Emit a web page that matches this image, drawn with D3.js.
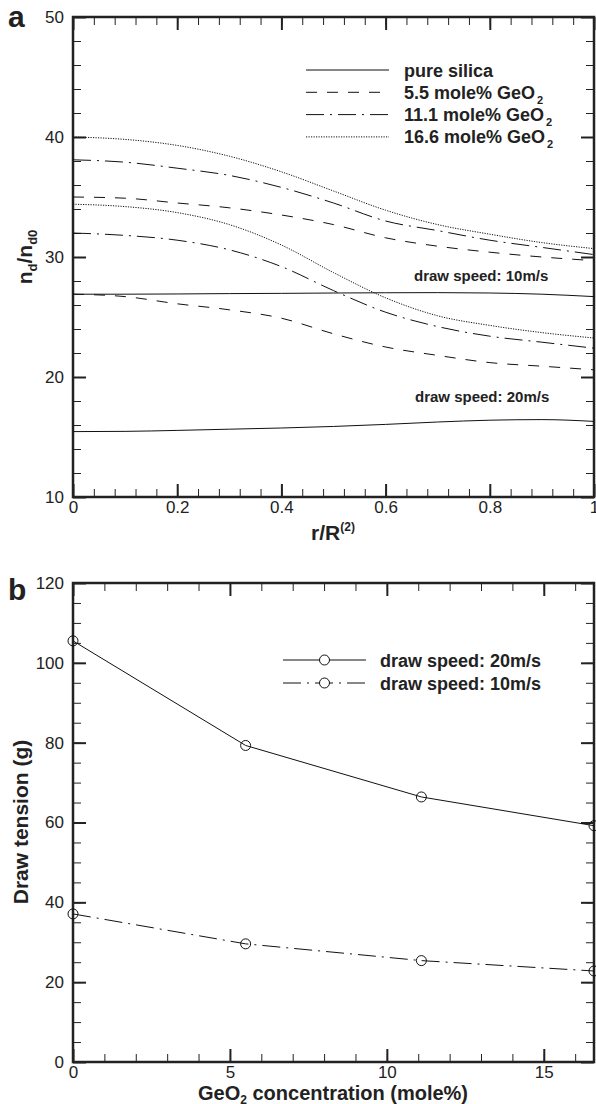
<!DOCTYPE html>
<html>
<head>
<meta charset="utf-8">
<script src="https://cdnjs.cloudflare.com/ajax/libs/d3/7.8.5/d3.min.js"></script>
<style>
  body { margin: 0; background: #fff; }
  svg { display: block; font-family: "Liberation Sans", Arial, sans-serif; }
  .tick text { font-size: 17px; fill: #222; font-family: "Liberation Sans", Arial, sans-serif; }
  .bold { font-weight: bold; fill: #222; }
</style>
</head>
<body>
<script>
// ---- panel a data: n_d/n_d0 against r/R(2) ----
var rA = [0, 0.1, 0.2, 0.3, 0.4, 0.5, 0.6, 0.7, 0.8, 0.9, 1.0];
var silica10 = [26.9, 26.9, 26.92, 26.95, 26.97, 27.0, 27.02, 27.03, 27.0, 26.9, 26.7];
var silica20 = [15.45, 15.47, 15.55, 15.65, 15.75, 15.88, 16.05, 16.25, 16.4, 16.45, 16.3];
var ge55Up = [35.0, 34.9, 34.5, 34.1, 33.5, 32.7, 31.6, 30.9, 30.4, 30.0, 29.7];
var ge55Lo = [26.9, 26.7, 26.1, 25.6, 24.9, 23.6, 22.5, 21.8, 21.2, 20.9, 20.6];
var ge111Up = [38.1, 37.9, 37.4, 36.8, 35.8, 34.5, 33.0, 32.2, 31.4, 30.8, 30.2];
var ge111Lo = [32.0, 31.8, 31.4, 30.6, 29.2, 27.2, 25.4, 24.2, 23.4, 22.9, 22.4];
var ge166Up = [40.0, 39.8, 39.3, 38.4, 37.1, 35.5, 33.9, 32.7, 31.9, 31.2, 30.7];
var ge166Lo = [34.4, 34.2, 33.7, 32.7, 31.0, 28.7, 26.6, 25.1, 24.3, 23.7, 23.25];
var legendA = ["pure silica", "5.5 mole% GeO", "11.1 mole% GeO", "16.6 mole% GeO"];
var xTicksA = [0, 0.2, 0.4, 0.6, 0.8, 1];
var yTicksA = [10, 20, 30, 40, 50];

// ---- panel b data: draw tension against GeO2 concentration ----
var geConc = [0, 5.5, 11.1, 16.6];
var tension20 = [105.5, 79.3, 66.4, 59.2];
var tension10 = [37.1, 29.6, 25.4, 22.8];
var legendB = ["draw speed: 20m/s", "draw speed: 10m/s"];
var xTicksB = [0, 5, 10, 15];
var yTicksB = [0, 20, 40, 60, 80, 100, 120];

var DASH = "11,10", DASHDOT = "18,6,2,6", DOT = "1.2,1.3";

var svg = d3.select("body").append("svg").attr("width", 596).attr("height", 1104);

var xA = d3.scaleLinear().domain([0, 1]).range([73, 594]);
var yA = d3.scaleLinear().domain([10, 50]).range([497, 17]);
var xB = d3.scaleLinear().domain([0, 16.6]).range([73, 594]);
var yB = d3.scaleLinear().domain([0, 120]).range([1062, 583]);

var fmt = d3.format("~g");

function frame(x, y, xMaj, xMin, yMaj, yMin) {
  var g = svg.append("g");
  var x0 = x.range()[0], x1 = x.range()[1], y0 = y.range()[0], y1 = y.range()[1];
  function put(axis, tx, ty, big) {
    var a = g.append("g").attr("transform", "translate(" + tx + "," + ty + ")").call(axis);
    a.select(".domain").remove();
    a.selectAll(".tick line").attr("stroke", "#222").attr("stroke-width", big ? 2 : 1);
    return a;
  }
  // labelled major ticks
  put(d3.axisBottom(x).tickValues(xMaj).tickSize(-13).tickPadding(4).tickFormat(fmt), 0, y0, true);
  put(d3.axisLeft(y).tickValues(yMaj).tickSize(-13).tickPadding(9).tickFormat(fmt), x0, 0, true);
  put(d3.axisTop(x).tickValues(xMaj).tickSize(-13).tickFormat(""), 0, y1, true);
  put(d3.axisRight(y).tickValues(yMaj).tickSize(-13).tickFormat(""), x1, 0, true);
  // minor ticks
  put(d3.axisBottom(x).tickValues(xMin).tickSize(-8).tickFormat(""), 0, y0, false);
  put(d3.axisTop(x).tickValues(xMin).tickSize(-8).tickFormat(""), 0, y1, false);
  put(d3.axisLeft(y).tickValues(yMin).tickSize(-8).tickFormat(""), x0, 0, false);
  put(d3.axisRight(y).tickValues(yMin).tickSize(-8).tickFormat(""), x1, 0, false);
  g.append("rect").attr("x", x0).attr("y", y1).attr("width", x1 - x0).attr("height", y0 - y1)
    .attr("fill", "none").attr("stroke", "#222").attr("stroke-width", 2.5);
  return g;
}

function minors(lo, hi, step) {
  return d3.range(0, Math.round((hi - lo) / step) + 1).map(function (i) { return +(lo + i * step).toFixed(4); });
}

// ================= panel a =================
frame(xA, yA, xTicksA, minors(0, 1, 0.04), yTicksA, minors(10, 50, 2));

var lineA = d3.line().curve(d3.curveMonotoneX)
  .x(function (d, i) { return xA(rA[i]); })
  .y(function (d) { return yA(d); });

var curvesA = [
  [silica10, null], [silica20, null],
  [ge55Up, DASH], [ge55Lo, DASH],
  [ge111Up, DASHDOT], [ge111Lo, DASHDOT],
  [ge166Up, DOT], [ge166Lo, DOT]
];
svg.append("g").selectAll("path").data(curvesA).join("path")
  .attr("d", function (d) { return lineA(d[0]); })
  .attr("fill", "none").attr("stroke", "#111").attr("stroke-width", 1)
  .attr("stroke-dasharray", function (d) { return d[1]; });

var stylesA = [null, DASH, DASHDOT, DOT];
var legA = svg.append("g");
legendA.forEach(function (t, i) {
  var yy = 70 + i * 22.3;
  legA.append("line").attr("x1", 306).attr("x2", 389).attr("y1", yy).attr("y2", yy)
    .attr("stroke", "#111").attr("stroke-width", 1).attr("stroke-dasharray", stylesA[i]);
  var tx = legA.append("text").attr("class", "bold").attr("x", 404).attr("y", yy + 6.5)
    .style("font-size", "18px").text(t);
  if (i > 0) tx.append("tspan").attr("dx", 2).attr("dy", 5).style("font-size", "11px").text("2");
});

svg.append("text").attr("class", "bold").attr("x", 414).attr("y", 281).style("font-size", "15px").text("draw speed: 10m/s");
svg.append("text").attr("class", "bold").attr("x", 415).attr("y", 402).style("font-size", "15px").text("draw speed: 20m/s");

svg.append("text").attr("class", "bold").attr("x", 8).attr("y", 27).style("font-size", "30px").text("a");

var xlabA = svg.append("text").attr("class", "bold").attr("x", 333).attr("y", 540)
  .attr("text-anchor", "middle").style("font-size", "21px").text("r/R");
xlabA.append("tspan").attr("dy", -9).style("font-size", "12px").text("(2)");

var ylabA = svg.append("text").attr("class", "bold")
  .attr("transform", "translate(32,257) rotate(-90)").attr("text-anchor", "middle").style("font-size", "21px");
ylabA.append("tspan").text("n");
ylabA.append("tspan").attr("dy", 5).style("font-size", "13px").text("d");
ylabA.append("tspan").attr("dy", -5).text("/n");
ylabA.append("tspan").attr("dy", 5).style("font-size", "13px").text("d0");

// ================= panel b =================
frame(xB, yB, xTicksB, minors(0, 16, 1), yTicksB, minors(0, 120, 5));

var lineB = d3.line()
  .x(function (d, i) { return xB(geConc[i]); })
  .y(function (d) { return yB(d); });

var seriesB = [[tension20, null], [tension10, DASHDOT]];
var gB = svg.append("g");
seriesB.forEach(function (s) {
  gB.append("path").attr("d", lineB(s[0])).attr("fill", "none")
    .attr("stroke", "#111").attr("stroke-width", 1).attr("stroke-dasharray", s[1]);
  gB.selectAll(null).data(s[0]).join("circle")
    .attr("cx", function (d, i) { return xB(geConc[i]); })
    .attr("cy", function (d) { return yB(d); })
    .attr("r", 5).attr("fill", "none").attr("stroke", "#111").attr("stroke-width", 1);
});

var stylesB = [null, DASHDOT];
legendB.forEach(function (t, i) {
  var yy = 660 + i * 23;
  gB.append("line").attr("x1", 283).attr("x2", 366).attr("y1", yy).attr("y2", yy)
    .attr("stroke", "#111").attr("stroke-width", 1).attr("stroke-dasharray", stylesB[i]);
  gB.append("circle").attr("cx", 324.5).attr("cy", yy).attr("r", 5)
    .attr("fill", "#fff").attr("stroke", "#111").attr("stroke-width", 1);
  gB.append("text").attr("class", "bold").attr("x", 380).attr("y", yy + 6.5)
    .style("font-size", "18px").text(t);
});

svg.append("text").attr("class", "bold").attr("x", 8).attr("y", 600).style("font-size", "30px").text("b");

var xlabB = svg.append("text").attr("class", "bold").attr("x", 333).attr("y", 1100)
  .attr("text-anchor", "middle").style("font-size", "20px");
xlabB.append("tspan").text("GeO");
xlabB.append("tspan").attr("dy", 4).style("font-size", "12px").text("2");
xlabB.append("tspan").attr("dy", -4).text(" concentration (mole%)");

svg.append("text").attr("class", "bold")
  .attr("transform", "translate(28,822) rotate(-90)").attr("text-anchor", "middle")
  .style("font-size", "21px").text("Draw tension (g)");
</script>
</body>
</html>
